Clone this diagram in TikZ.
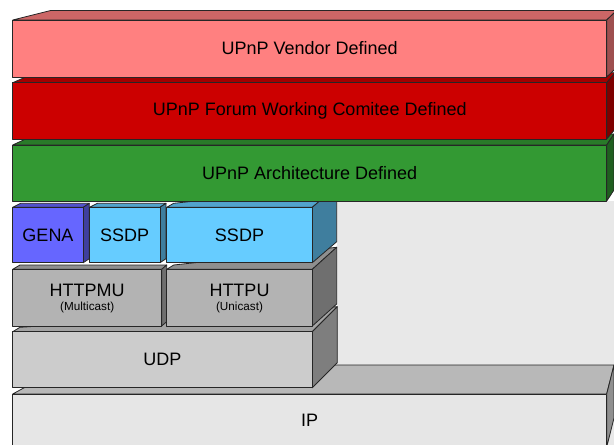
\documentclass[tikz,border=0pt]{standalone}
\usepackage{fontspec}
\setmainfont{Liberation Sans}
\usepackage{tikz}

\newcommand{\Slab}[9]{%
  \filldraw[face, fill=#9!80!black] (#1,#2) -- ++(#5,-#6) -- (#3+#7,#2-#8) -- (#3,#2) -- cycle;
  \filldraw[face, fill=#9!62!black] (#3,#2) -- (#3+#7,#2-#8) -- (#3+#7,#4-#8) -- (#3,#4) -- cycle;
  \filldraw[face, fill=#9] (#1,#2) rectangle (#3,#4);
}

\definecolor{vendorpink}{RGB}{255,128,128}
\definecolor{forumred}{RGB}{204,0,0}
\definecolor{archgreen}{RGB}{51,153,51}
\definecolor{genablue}{RGB}{102,102,255}
\definecolor{ssdpblue}{RGB}{102,204,255}
\definecolor{httpgray}{RGB}{179,179,179}
\definecolor{udpgray}{RGB}{204,204,204}
\definecolor{ipgray}{RGB}{230,230,230}
\definecolor{backgray}{RGB}{232,232,232}

\begin{document}
\begin{tikzpicture}[x=1pt,y=-1pt,
  face/.style={draw=black!85,line width=0.8pt,line join=round},
  lbl/.style={font=\fontsize{18}{20}\selectfont},
  note/.style={font=\fontsize{11.7}{13}\selectfont}]
\useasboundingbox (0,0) rectangle (614,445);
\clip (0,0) rectangle (614,445);
\fill[backgray] (337,201) rectangle (614,445);
\Slab{12.7}{394}{606.7}{447}{53}{29}{7.3}{29}{ipgray}
\Slab{12.7}{331.7}{312.3}{387.7}{7.3}{4.4}{25}{25}{udpgray}
\Slab{12.7}{269.3}{161.7}{326}{7.3}{4.3}{5}{4.3}{httpgray}
\Slab{166.7}{269.3}{312.3}{326}{7}{4.3}{24.4}{22}{httpgray}
\Slab{12.7}{207.3}{83.3}{262.7}{8}{4}{6}{4}{genablue}
\Slab{89.3}{207.3}{160}{262.7}{8}{4}{6}{4}{ssdpblue}
\Slab{166.7}{207.3}{312.3}{262.7}{7}{4}{24.4}{21}{ssdpblue}
\Slab{12.7}{145}{606.7}{201}{20.5}{9.5}{7.3}{11}{archgreen}
\Slab{12.7}{82.7}{606.7}{139}{21.7}{9.5}{8.5}{10}{forumred}
\Slab{12.7}{20}{606.7}{77}{38}{9.5}{10}{9.5}{vendorpink}
\node[lbl] (vendor) at (309.7,48.5) {UPnP Vendor Defined};
\node[lbl] (forum) at (309.7,111) {UPnP Forum Working Comitee Defined};
\node[lbl] (arch) at (309.7,173) {UPnP Architecture Defined};
\node[lbl] (gena) at (48,235) {GENA};
\node[lbl] (ssdpa) at (124.7,235) {SSDP};
\node[lbl] (ssdpb) at (239.5,235) {SSDP};
\node[lbl] (httpmu) at (87.2,290) {HTTPMU};
\node[note] (multicast) at (87.2,307.5) {(Multicast)};
\node[lbl] (httpu) at (239.5,290) {HTTPU};
\node[note] (unicast) at (239.5,307.5) {(Unicast)};
\node[lbl] (udp) at (162.5,359.7) {UDP};
\node[lbl] (ip) at (309.7,420) {IP};
\end{tikzpicture}
\end{document}
